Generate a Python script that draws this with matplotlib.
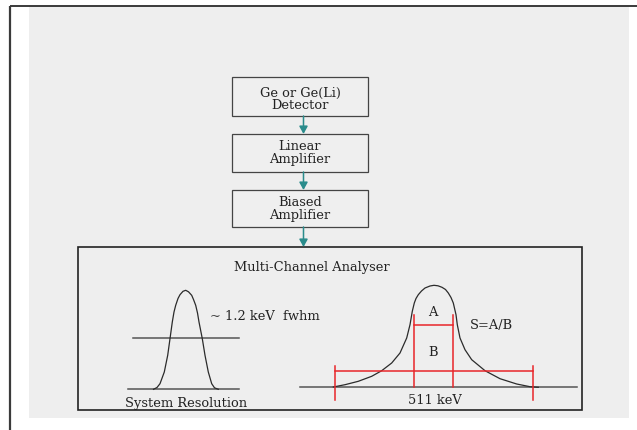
import matplotlib
matplotlib.use('Agg')
import matplotlib.pyplot as plt
from matplotlib.patches import Rectangle

# chain of boxes at the top: (left, top, right, bottom) in pixels, and their labels
box_edges = [(232, 77, 368, 116), (232, 134, 368, 172), (232, 190, 368, 227)]
box_labels = [('Ge or Ge(Li)', 'Detector'), ('Linear', 'Amplifier'), ('Biased', 'Amplifier')]
box_line_y = [(93.5, 105.5), (146, 159), (202, 215)]
arrow_x = 303.5
mca_box = (78, 247, 582, 410)

# left peak (system resolution)
left_x = [153.5, 157, 160, 164.3, 167.7, 170, 172.3, 174, 175.7, 178, 180, 183, 185.7,
          188.5, 191.7, 193.5, 195.7, 197.5, 199, 202.3, 205, 208.3, 211.7, 214.5, 218.3]
left_y = [389.3, 387.5, 383.7, 372, 355.3, 338.7, 322, 312, 305.3, 298.5, 294.7, 291.3, 290.3,
          291.8, 295.3, 299.5, 305.3, 313, 322, 338.7, 355.3, 372, 383.7, 387.8, 389.3]
left_base = (128, 239, 389.3)
left_half = (133, 239, 338)

# right peak (511 keV)
right_x = [333.3, 345, 358.3, 371.7, 381.7, 391.7, 400, 406.7, 410, 412.3, 414.3, 416, 418.3, 421.5, 425,
           430, 434, 438, 442, 445.5, 448.3, 451, 453.3, 456, 457.3, 460, 465, 471.7, 485, 500, 516.7, 530, 538.3]
right_y = [387, 384.7, 381.3, 376.3, 370.7, 363, 353, 338, 324.7, 311.3, 303, 298.5, 294.7, 291, 288,
           286, 285.3, 285.8, 287.3, 289.5, 293, 297.5, 303, 314.7, 324.7, 338, 349.7, 359.7, 370.7, 378.7, 384, 386.7, 387.3]
right_base = (300, 577, 387.3)

# red measurement marks
outer_marks_x = [334.5, 533.3]
outer_marks_y = (366, 400)
outer_bar_y = 371
inner_marks_x = [414, 453.3]
inner_marks_y = (315, 387)
inner_bar_y = 324.5

fig = plt.figure(figsize=(6.37, 4.30), dpi=100, facecolor='white')
ax = fig.add_axes([0, 0, 1, 1])
ax.set_xlim(0, 637)
ax.set_ylim(430, 0)
ax.axis('off')

serif = 'DejaVu Serif'
fs = 9.4
ink = '#2b2b2b'
txt = '#222222'
teal = '#2a8c8c'
red = '#e8262a'

# background panel and outer frame
ax.add_patch(Rectangle((29, 6), 600, 412, facecolor='#eeeeee', edgecolor='none'))
ax.plot([10, 10], [430, 6], color='#3a3a3a', lw=1.6, solid_capstyle='butt')
ax.plot([10, 637], [6, 6], color='#3a3a3a', lw=1.4, solid_capstyle='butt')

# boxes with labels
for (x0, y0, x1, y1), (l1, l2), (ty1, ty2) in zip(box_edges, box_labels, box_line_y):
    ax.add_patch(Rectangle((x0, y0), x1 - x0, y1 - y0, facecolor='#efefef',
                           edgecolor='#444444', lw=0.9))
    cx = (x0 + x1) / 2
    ax.text(cx, ty1, l1, ha='center', va='center', family=serif, fontsize=fs, color=txt)
    ax.text(cx, ty2, l2, ha='center', va='center', family=serif, fontsize=fs, color=txt)

# arrows between stages
starts = [b[3] for b in box_edges]
ends = [b[1] for b in box_edges[1:]] + [mca_box[1]]
for ys, ye in zip(starts, ends):
    ax.annotate('', xy=(arrow_x, ye), xytext=(arrow_x, ys),
                arrowprops=dict(arrowstyle='-|>,head_length=0.45,head_width=0.25',
                                color=teal, lw=1.1, shrinkA=0, shrinkB=0))

# multi-channel analyser box
x0, y0, x1, y1 = mca_box
ax.add_patch(Rectangle((x0, y0), x1 - x0, y1 - y0, facecolor='none', edgecolor='#222222', lw=1.2))
ax.text(311.5, 268, 'Multi-Channel Analyser', ha='center', va='center',
        family=serif, fontsize=fs, color=txt)

# left peak
ax.plot([left_base[0], left_base[1]], [left_base[2]] * 2, color='#555555', lw=1.1)
ax.plot([left_half[0], left_half[1]], [left_half[2]] * 2, color='#555555', lw=1.1)
ax.plot(left_x, left_y, color=ink, lw=0.9)
ax.text(210, 317, '~ 1.2 keV  fwhm', ha='left', va='center', family=serif, fontsize=fs, color=txt)
ax.text(186.5, 403, 'System Resolution', ha='center', va='center', family=serif, fontsize=fs, color=txt)

# right peak
ax.plot([right_base[0], right_base[1]], [right_base[2]] * 2, color='#555555', lw=1.1)
ax.plot(right_x, right_y, color=ink, lw=0.9)
for mx in outer_marks_x:
    ax.plot([mx, mx], outer_marks_y, color=red, lw=1.1)
ax.plot(outer_marks_x, [outer_bar_y] * 2, color=red, lw=1.1)
for mx in inner_marks_x:
    ax.plot([mx, mx], inner_marks_y, color=red, lw=1.1)
ax.plot(inner_marks_x, [inner_bar_y] * 2, color=red, lw=1.1)

ax.text(432.7, 313, 'A', ha='center', va='center', family=serif, fontsize=fs, color=txt)
ax.text(432.7, 353, 'B', ha='center', va='center', family=serif, fontsize=fs, color=txt)
ax.text(470, 326, 'S=A/B', ha='left', va='center', family=serif, fontsize=fs, color=txt)
ax.text(435, 400, '511 keV', ha='center', va='center', family=serif, fontsize=fs, color=txt)

fig.savefig('out.png', dpi=100, facecolor='white')
